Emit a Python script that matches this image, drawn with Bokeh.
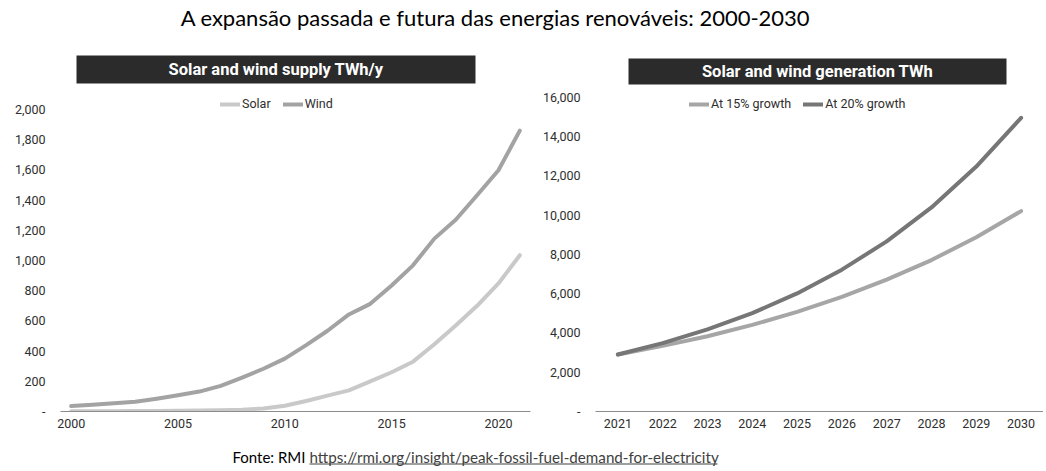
from bokeh.plotting import figure
from bokeh.models import (Range1d, FixedTicker, CustomJSTickFormatter, BoxAnnotation,
                          Label, ColumnDataSource)
from bokeh.layouts import column, row
from bokeh.embed import file_html
from bokeh.resources import INLINE

# ---------------- data ----------------
hist_years = [2000, 2001, 2002, 2003, 2004, 2005, 2006, 2007, 2008, 2009, 2010,
              2011, 2012, 2013, 2014, 2015, 2016, 2017, 2018, 2019, 2020, 2021]
solar = [1, 1, 2, 3, 4, 5, 6, 8, 12, 20, 38, 70, 105, 140, 200, 260, 330, 445,
         570, 700, 848, 1035]
wind = [36, 44, 55, 65, 85, 108, 132, 170, 225, 283, 350, 440, 535, 643, 713,
        835, 968, 1145, 1270, 1432, 1598, 1860]

proj_years = [2021, 2022, 2023, 2024, 2025, 2026, 2027, 2028, 2029, 2030]
growth15 = [2900, 3340, 3830, 4410, 5070, 5830, 6710, 7710, 8870, 10200]
growth20 = [2900, 3480, 4180, 5010, 6010, 7220, 8660, 10390, 12470, 14950]

left_yticks = [0, 200, 400, 600, 800, 1000, 1200, 1400, 1600, 1800, 2000]
left_xticks = [2000, 2005, 2010, 2015, 2020]
right_yticks = [0, 2000, 4000, 6000, 8000, 10000, 12000, 14000, 16000]
right_xticks = proj_years

title_text = "A expansão passada e futura das energias renováveis: 2000-2030"
left_header = "Solar and wind supply TWh/y"
right_header = "Solar and wind generation TWh"
source_label = "Fonte: RMI"
source_url = "https://rmi.org/insight/peak-fossil-fuel-demand-for-electricity"

FONT = "Roboto"
TICK_COLOR = "#2e2e2e"

fmt = CustomJSTickFormatter(code="return tick == 0 ? '-' : tick.toLocaleString('en-US');")


def style(p, xticks, yticks):
    p.outline_line_color = None
    p.xgrid.grid_line_color = None
    p.ygrid.grid_line_color = None
    p.xaxis.ticker = FixedTicker(ticks=xticks)
    p.yaxis.ticker = FixedTicker(ticks=yticks)
    p.yaxis.formatter = fmt
    for ax in (p.xaxis, p.yaxis):
        ax.major_tick_line_color = None
        ax.minor_tick_line_color = None
        ax.major_tick_out = 0
        ax.major_tick_in = 0
        ax.major_label_text_font = FONT
        ax.major_label_text_font_size = "12.5px"
        ax.major_label_text_color = TICK_COLOR
    p.xaxis.axis_line_color = "#8c8c8c"
    p.xaxis.axis_line_width = 1
    p.xaxis.major_label_standoff = 7
    p.yaxis.axis_line_color = None
    p.yaxis.major_label_standoff = 15


def style_legend(p, loc):
    lg = p.legend[0]
    lg.location = loc
    lg.orientation = "horizontal"
    lg.padding = 0
    lg.margin = 0
    lg.spacing = 12
    lg.label_standoff = 2
    lg.glyph_width = 20
    lg.glyph_height = 14
    lg.label_height = 14
    lg.border_line_color = None
    lg.background_fill_alpha = 0
    lg.label_text_font = FONT
    lg.label_text_font_size = "12.5px"
    lg.label_text_color = TICK_COLOR


def header(p, left, right, top, bottom, text):
    p.add_layout(BoxAnnotation(left=left, right=right, top=top, bottom=bottom,
                               left_units="screen", right_units="screen",
                               top_units="screen", bottom_units="screen",
                               fill_color="#2b2b2b", fill_alpha=1, line_color=None))
    p.add_layout(Label(x=(left + right) / 2, y=(top + bottom) / 2,
                       x_units="screen", y_units="screen", text=text,
                       text_align="center", text_baseline="middle",
                       text_color="white", text_font=FONT, text_font_style="bold",
                       text_font_size="16.5px"))


# ---------------- left chart ----------------
src_l = ColumnDataSource(dict(year=hist_years, solar=solar, wind=wind))
pl = figure(width=535, height=396, x_range=Range1d(1999.5, 2021.5),
            y_range=Range1d(0, 2391), output_backend="svg", toolbar_location=None,
            min_border_left=60, min_border_right=5, min_border_top=6,
            min_border_bottom=29)
pl.line("year", "solar", source=src_l, line_width=4, color="#c9c9c9",
        line_join="round", line_cap="round", legend_label="Solar")
pl.line("year", "wind", source=src_l, line_width=4, color="#a3a3a3",
        line_join="round", line_cap="round", legend_label="Wind")
style(pl, left_xticks, left_yticks)
style_legend(pl, (160, 300))
header(pl, 16, 415, 356, 328, left_header)

# ---------------- right chart ----------------
src_r = ColumnDataSource(dict(year=proj_years, g15=growth15, g20=growth20))
pr = figure(width=508, height=396, x_range=Range1d(2020.5, 2030.5),
            y_range=Range1d(0, 18377), output_backend="svg", toolbar_location=None,
            min_border_left=60, min_border_right=0, min_border_top=6,
            min_border_bottom=29)
pr.line("year", "g15", source=src_r, line_width=4, color="#a6a6a6",
        line_join="round", line_cap="round", legend_label="At 15% growth")
pr.line("year", "g20", source=src_r, line_width=4, color="#767676",
        line_join="round", line_cap="round", legend_label="At 20% growth")
style(pr, right_xticks, right_yticks)
style_legend(pr, (94, 300))
header(pr, 33, 411, 353, 327, right_header)


# ---------------- title / footer ----------------
def blank(h):
    f = figure(width=1043, height=h, x_range=Range1d(0, 1), y_range=Range1d(0, 1),
               output_backend="svg", toolbar_location=None, min_border=0,
               x_axis_location=None, y_axis_location=None)
    f.outline_line_color = None
    f.xgrid.visible = False
    f.ygrid.visible = False
    return f


pt = blank(44)
pt.add_layout(Label(x=495, y=27, x_units="screen", y_units="screen", text=title_text,
                    text_align="center", text_baseline="middle",
                    text_font="Lato", text_font_size="22px", text_color="black"))

pf = blank(30)
pf.add_layout(Label(x=232, y=14, x_units="screen", y_units="screen", text=source_label,
                    text_align="left", text_baseline="middle",
                    text_font="Lato", text_font_size="15px", text_color="black"))
pf.add_layout(Label(x=309, y=14, x_units="screen", y_units="screen", text=source_url,
                    text_align="left", text_baseline="middle",
                    text_font="Lato", text_font_size="15.2px", text_color="#404040"))
pf.add_layout(BoxAnnotation(left=309, right=717, bottom=6, top=7,
                            left_units="screen", right_units="screen",
                            top_units="screen", bottom_units="screen",
                            fill_color="#404040", fill_alpha=1, line_color=None))

layout = column(pt, row(pl, pr), pf)

open("out.html", "w").write(file_html(layout, INLINE))
